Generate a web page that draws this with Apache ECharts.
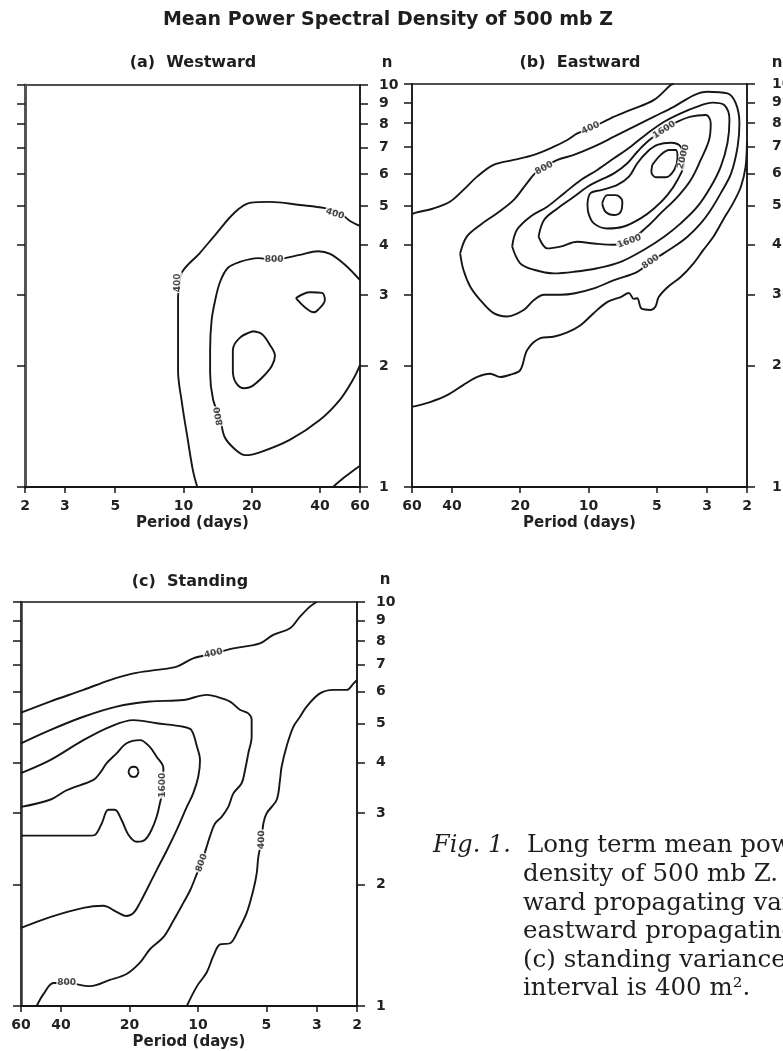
<!DOCTYPE html>
<html>
<head>
<meta charset="utf-8">
<title>Mean Power Spectral Density of 500 mb Z</title>
<script src="https://cdn.jsdelivr.net/npm/echarts@6/dist/echarts.min.js"></script>
<style>
html, body { margin: 0; padding: 0; background: #fff; }
#chart { width: 783px; height: 1051px; }
</style>
</head>
<body>
<div id="chart"></div>
<script>
// Tick values of the axes
const nTicks = [1, 2, 3, 4, 5, 6, 7, 8, 9, 10];
const periodTicks = [2, 3, 5, 10, 20, 40, 60];

// Contour lines; every point is [period (days), zonal wavenumber n]

// (a) Westward propagating variance
const west400 = [[11.5,1.0],[11.0,1.10],[10.4,1.33],[9.84,1.62],[9.46,1.95],[9.46,2.5],[9.46,2.97],[9.6,3.2],[9.94,3.45],[11.8,3.82],[13.8,4.24],[16.9,4.83],[19.6,5.09],[24.0,5.12],[32.6,5.03],[42.0,4.94],[49.0,4.80],[54.2,4.59],[60,4.46]];
const west400Corner = [[45.6,1.0],[51.5,1.06],[60,1.13]];
const west800 = [[60,3.27],[51.5,3.57],[44.3,3.80],[39.2,3.86],[32.6,3.78],[28.0,3.71],[25.1,3.67],[21.3,3.71],[17.7,3.63],[15.7,3.51],[14.5,3.24],[13.8,2.92],[13.3,2.60],[13.1,2.19],[13.1,1.92],[13.5,1.65],[14.5,1.48],[15.2,1.33],[16.9,1.24],[18.7,1.20],[21.7,1.22],[29.4,1.31],[40.0,1.47],[49.0,1.65],[55.9,1.85],[60,2.01]];
const west1200Low = [[20.2,2.44],[22.2,2.40],[24.0,2.26],[25.3,2.12],[24.5,2.00],[22.4,1.88],[20.0,1.78],[18.5,1.76],[17.0,1.82],[16.5,1.95],[16.5,2.19],[17.7,2.35],[20.2,2.44]];
const west1200High = [[31.3,2.95],[36.1,3.05],[40.8,3.04],[42.0,2.92],[39.2,2.76],[37.5,2.72],[34.3,2.80],[31.3,2.95]];
// Contour labels: [period, n, contour value]
const westLabels = [[46.5,4.78,400],[9.46,3.22,400],[25.1,3.67,800],[14.3,1.50,800]];

// (b) Eastward propagating variance
const east400Low = [[60,1.58],[49.9,1.625],[42.0,1.69],[35.7,1.79],[30.9,1.875],[27.1,1.91],[24.5,1.875],[22.1,1.90],[20.0,1.95],[18.6,2.19],[16.3,2.34],[14.3,2.36],[12.4,2.42],[10.84,2.52],[9.49,2.70],[8.24,2.88],[7.21,2.96],[6.64,3.03],[6.32,2.93],[6.10,2.94],[5.83,2.77],[5.32,2.75],[5.07,2.80],[4.90,2.96],[4.47,3.135],[3.92,3.32],[3.44,3.59],[3.12,3.87],[2.82,4.17],[2.55,4.60],[2.30,5.07],[2.13,5.55],[2.03,6.22],[2.0,7.2]];
const east400High = [[60,4.75],[58.2,4.79],[48.3,4.91],[40.7,5.11],[35.6,5.46],[31.0,5.89],[26.2,6.30],[21.4,6.48],[17.4,6.67],[14.2,6.99],[12.4,7.26],[11.2,7.54],[9.79,7.76],[7.99,8.22],[6.52,8.62],[5.14,9.13],[4.34,9.94],[4.21,10]];
const east800 = [[36.8,3.80],[34.4,4.18],[30.0,4.47],[25.3,4.78],[21.4,5.15],[18.7,5.67],[16.9,6.06],[13.7,6.48],[11.6,6.67],[9.47,6.99],[7.72,7.40],[6.30,7.84],[5.14,8.30],[4.19,8.79],[3.42,9.39],[2.99,9.57],[2.44,9.48],[2.24,8.95],[2.16,7.99],[2.20,6.99],[2.35,6.00],[2.61,5.36],[2.89,4.87],[3.20,4.51],[3.66,4.18],[4.19,3.95],[5.32,3.62],[6.09,3.42],[7.72,3.26],[9.47,3.11],[11.6,3.02],[13.3,3.00],[15.7,3.00],[17.4,2.91],[19.3,2.75],[22.9,2.65],[26.2,2.70],[30.0,2.91],[33.2,3.14],[35.6,3.46],[36.8,3.80]];
const east1200 = [[21.7,3.95],[20.7,4.34],[18.0,4.69],[15.2,4.96],[12.8,5.36],[10.8,5.78],[9.15,6.12],[7.72,6.54],[6.52,6.99],[5.50,7.54],[4.64,8.06],[3.92,8.46],[3.31,8.79],[2.84,8.99],[2.52,8.87],[2.39,8.14],[2.44,7.13],[2.61,6.24],[2.89,5.56],[3.31,4.96],[3.92,4.51],[4.64,4.18],[5.69,3.88],[7.21,3.62],[9.15,3.49],[11.6,3.42],[14.2,3.39],[17.4,3.46],[20.0,3.59],[21.7,3.95]];
const east1600 = [[16.6,4.18],[15.7,4.60],[13.7,4.91],[11.6,5.25],[10.1,5.56],[8.85,5.78],[7.72,6.00],[6.74,6.36],[6.09,6.79],[5.50,7.19],[4.80,7.61],[4.19,7.99],[3.54,8.30],[3.04,8.38],[2.89,7.99],[2.94,7.26],[3.20,6.48],[3.54,5.78],[4.05,5.25],[4.80,4.78],[5.50,4.43],[6.52,4.10],[7.72,3.99],[9.47,4.02],[11.2,4.06],[13.3,3.95],[15.2,3.91],[16.6,4.18]];
const east2000 = [[10.1,5.06],[9.79,5.36],[8.70,5.46],[7.46,5.62],[6.63,5.89],[6.09,6.36],[5.50,6.79],[4.97,7.06],[4.34,7.15],[3.92,6.99],[3.79,6.36],[4.05,5.78],[4.49,5.30],[5.14,4.91],[5.89,4.64],[6.98,4.43],[8.26,4.38],[9.47,4.51],[10.0,4.78],[10.1,5.06]];
const east2400Low = [[8.70,5.06],[8.26,5.30],[7.59,5.30],[7.09,5.11],[7.21,4.82],[7.72,4.73],[8.41,4.82],[8.70,5.06]];
const east2400High = [[5.23,6.30],[4.80,6.67],[4.41,6.86],[4.12,6.86],[4.05,6.54],[4.19,6.12],[4.56,5.87],[5.05,5.87],[5.28,6.06],[5.23,6.30]];
const eastLabels = [[9.79,7.77,400],[15.7,6.18,800],[4.64,7.69,1600],[3.82,6.60,2000],[6.60,4.07,1600],[5.32,3.62,800]];

// (c) Standing variance
const stand400Top = [[60,5.32],[44.7,5.67],[31.9,6.06],[24.4,6.41],[19.2,6.66],[15.2,6.79],[12.4,6.92],[10.5,7.25],[8.56,7.46],[6.99,7.68],[5.34,7.90],[4.67,8.29],[3.94,8.61],[3.56,9.20],[3.22,9.74],[3.01,10]];
const stand400Side = [[2.0,6.41],[2.07,6.29],[2.22,6.06],[2.54,6.06],[2.91,5.94],[3.33,5.51],[3.56,5.20],[3.81,4.91],[4.08,4.39],[4.29,3.91],[4.36,3.63],[4.51,3.24],[4.99,3.00],[5.16,2.83],[5.25,2.58],[5.43,2.34],[5.52,2.13],[5.71,1.94],[6.11,1.70],[6.65,1.54],[7.23,1.43],[8.00,1.42],[8.56,1.33],[9.16,1.21],[10.1,1.12],[11.2,1.0]];
const stand800 = [[60,4.47],[44.7,4.82],[31.9,5.20],[22.8,5.51],[16.3,5.67],[11.6,5.72],[9.16,5.89],[8.28,5.83],[7.23,5.67],[6.54,5.41],[6.01,5.30],[5.81,5.11],[5.81,4.64],[6.01,4.22],[6.21,3.84],[6.43,3.56],[6.99,3.36],[7.36,3.11],[7.87,2.94],[8.42,2.83],[8.86,2.63],[9.16,2.48],[9.63,2.26],[10.1,2.13],[10.8,1.94],[11.6,1.80],[12.8,1.63],[14.2,1.48],[16.3,1.38],[18.0,1.28],[20.6,1.20],[24.4,1.16],[29.8,1.12],[37.8,1.14],[43.2,1.14],[47.8,1.07],[51.2,1.0]];
const stand1200 = [[60,3.77],[44.7,4.06],[31.9,4.55],[24.4,4.91],[19.2,5.10],[15.2,5.01],[11.6,4.91],[10.7,4.82],[10.1,4.38],[9.80,4.06],[9.97,3.70],[10.5,3.36],[11.2,3.11],[12.4,2.73],[13.7,2.43],[15.2,2.17],[16.8,1.94],[18.0,1.80],[19.2,1.70],[20.6,1.67],[22.8,1.71],[26.1,1.77],[31.9,1.75],[44.7,1.66],[60,1.56]];
const stand1600 = [[60,3.11],[44.7,3.24],[37.8,3.42],[28.8,3.63],[27.0,3.77],[25.2,3.99],[22.8,4.22],[20.6,4.47],[18.0,4.55],[16.3,4.38],[15.2,4.14],[14.2,3.88],[14.2,3.49],[14.7,3.18],[15.2,2.94],[16.0,2.73],[17.1,2.58],[18.6,2.55],[20.2,2.65],[21.7,2.89],[23.2,3.06],[24.8,3.06],[26.5,2.83],[28.4,2.65],[29.8,2.64],[45,2.64],[60,2.64]];
const stand2000 = [[18.25,3.80],[18.6,3.89],[19.2,3.91],[19.8,3.89],[20.2,3.80],[19.8,3.71],[19.2,3.69],[18.6,3.71],[18.25,3.80]];
const standLabels = [[8.56,7.46,400],[5.25,2.58,400],[9.63,2.26,800],[37.8,1.14,800],[14.3,3.52,1600]];

// Contour sets of the three panels: [contour value, line]
const westContours = [[400, west400], [400, west400Corner], [800, west800], [1200, west1200Low], [1200, west1200High]];
const eastContours = [[400, east400Low], [400, east400High], [800, east800], [1200, east1200], [1600, east1600], [2000, east2000], [2400, east2400Low], [2400, east2400High]];
const standContours = [[400, stand400Top], [400, stand400Side], [800, stand800], [1200, stand1200], [1600, stand1600], [2000, stand2000]];

// Texts
const titleText = 'Mean Power Spectral Density of 500 mb Z';
const panelTitles = ['(a)  Westward', '(b)  Eastward', '(c)  Standing'];
const periodName = 'Period (days)';
const captionHead = 'Fig. 1.';
const captionLines = [
  'Long term mean power spectral',
  'density of 500 mb Z. (a) West-',
  'ward propagating variance, (b)',
  'eastward propagating variance,',
  '(c) standing variance. Contour',
  'interval is 400 m\u00b2.'
];

// Label orientation (degrees) along the contours, one per label
const westLabelAngles = [-18, 90, 0, 100];
const eastLabelAngles = [25, 28, 33, 75, 20, 35];
const standLabelAngles = [12, 88, 70, 0, 90];

const FONT = '"DejaVu Sans", "Liberation Sans", sans-serif';
const SERIF = '"DejaVu Serif", "Liberation Serif", serif';
const INK = '#161616';

// Plot boxes; labels may run past the canvas edge, so the boxes keep their size
const grids = [
  { left: 25, top: 85, width: 335, height: 402 },
  { left: 412, top: 84, width: 335, height: 403 },
  { left: 21, top: 602, width: 336, height: 404 }
].map(g => Object.assign({
  show: true, borderColor: INK, borderWidth: 1.5, backgroundColor: 'transparent',
  containLabel: false, outerBoundsMode: 'none'
}, g));

function periodAxis(gi, inverse) {
  return {
    type: 'log', logBase: 10, gridIndex: gi, position: 'bottom', min: 2, max: 60, inverse: inverse,
    axisLine: { show: true, onZero: false, lineStyle: { color: INK, width: 2.2 } },
    axisTick: { show: true, inside: false, length: 6, customValues: periodTicks, lineStyle: { color: INK, width: 1.5 } },
    axisLabel: { show: true, customValues: periodTicks, margin: 12, fontSize: 14, fontWeight: 'bold', color: '#222', fontFamily: FONT },
    minorTick: { show: false }, splitLine: { show: false },
    name: periodName, nameLocation: 'middle', nameGap: 29,
    nameTextStyle: { fontSize: 15, fontWeight: 'bold', color: '#222', fontFamily: FONT }
  };
}

function waveAxis(gi, pos, withLabels, lineColor, lineWidth, labelGap) {
  return {
    type: 'log', logBase: 10, gridIndex: gi, position: pos, min: 1, max: 10,
    axisLine: { show: true, onZero: false, lineStyle: { color: lineColor, width: lineWidth } },
    axisTick: { show: true, inside: false, length: 8, customValues: nTicks, lineStyle: { color: INK, width: 1.5 } },
    axisLabel: { show: withLabels, customValues: nTicks, margin: labelGap || 12, fontSize: 14, fontWeight: 'bold', color: '#222', fontFamily: FONT },
    minorTick: { show: false }, splitLine: { show: false }
  };
}

const xAxes = [periodAxis(0, false), periodAxis(1, true), periodAxis(2, true)];
const yAxes = [
  waveAxis(0, 'left', false, '#555', 3), waveAxis(0, 'right', true, INK, 1.5, 19),
  waveAxis(1, 'left', false, INK, 1.5), waveAxis(1, 'right', true, INK, 1.5, 25),
  waveAxis(2, 'left', false, '#333', 2.5), waveAxis(2, 'right', true, INK, 1.5, 19)
];

function contourSeries(contours, gi) {
  return contours.map(([level, pts]) => ({
    type: 'line', name: String(level), xAxisIndex: gi, yAxisIndex: 2 * gi + 1,
    data: pts, showSymbol: false, smooth: 0.35, silent: true, animation: false, z: 3,
    lineStyle: { color: INK, width: 1.9 }
  }));
}

function labelSeries(labels, angles, gi) {
  return {
    type: 'scatter', xAxisIndex: gi, yAxisIndex: 2 * gi + 1, symbolSize: 1, silent: true, animation: false, z: 6,
    itemStyle: { color: 'rgba(0,0,0,0)' },
    data: labels.map((d, i) => ({ value: [d[0], d[1]], name: String(d[2]), label: { rotate: angles[i] } })),
    label: {
      show: true, position: 'inside', formatter: p => p.name,
      backgroundColor: '#fff', padding: [0, 1], fontSize: 9, fontWeight: 'bold', color: INK, fontFamily: FONT
    }
  };
}

const series = [].concat(
  contourSeries(westContours, 0), [labelSeries(westLabels, westLabelAngles, 0)],
  contourSeries(eastContours, 1), [labelSeries(eastLabels, eastLabelAngles, 1)],
  contourSeries(standContours, 2), [labelSeries(standLabels, standLabelAngles, 2)]
);

function txt(x, y, text, font, align) {
  return { type: 'text', x: x, y: y, silent: true,
    style: { text: text, font: font, fill: '#1e1e1e', align: align || 'center', verticalAlign: 'middle' } };
}

const graphics = [
  txt(388, 20, titleText, 'bold 19px ' + FONT),
  txt(193, 63, panelTitles[0], 'bold 16px ' + FONT),
  txt(580, 63, panelTitles[1], 'bold 16px ' + FONT),
  txt(190, 582, panelTitles[2], 'bold 16px ' + FONT),
  txt(387, 63, 'n', 'bold 15px ' + FONT),
  txt(777, 63, 'n', 'bold 15px ' + FONT),
  txt(385, 580, 'n', 'bold 15px ' + FONT),
  txt(433, 846, captionHead, 'italic 24px ' + SERIF, 'left')
].concat(captionLines.map((line, i) =>
  txt(i === 0 ? 527 : 523, 846 + i * 28.6, line, '24.5px ' + SERIF, 'left')
));

const chart = echarts.init(document.getElementById('chart'), null, { renderer: 'canvas' });
chart.setOption({
  backgroundColor: '#fff',
  animation: false,
  textStyle: { fontFamily: FONT },
  grid: grids,
  xAxis: xAxes,
  yAxis: yAxes,
  series: series,
  graphic: graphics
});
</script>
</body>
</html>
